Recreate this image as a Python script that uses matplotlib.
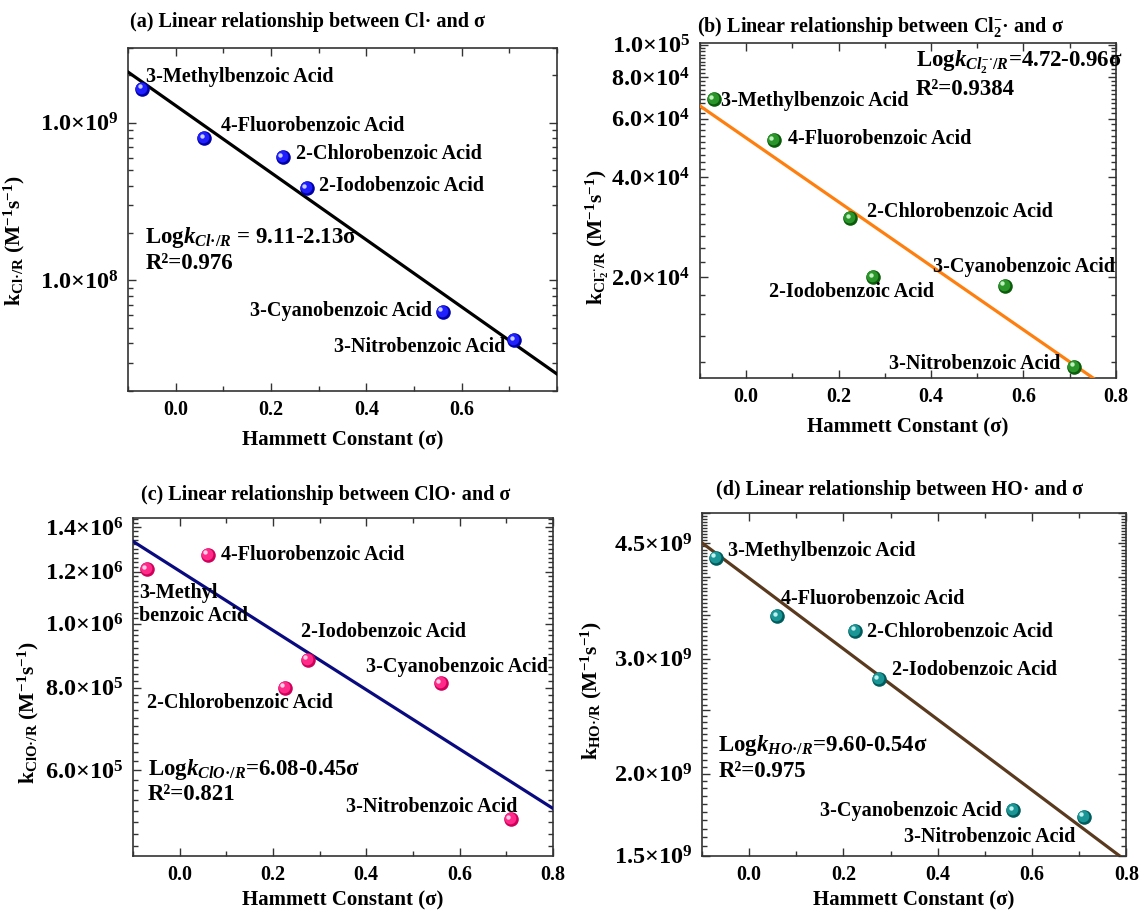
import matplotlib
matplotlib.use('Agg')
import matplotlib.pyplot as plt
import numpy as np
from matplotlib import transforms
from matplotlib.ticker import MultipleLocator, LogLocator, NullFormatter, FuncFormatter

plt.rcParams['font.family'] = ['Liberation Serif', 'DejaVu Serif']
plt.rcParams['font.weight'] = 'bold'
plt.rcParams['axes.labelweight'] = 'bold'
plt.rcParams['mathtext.fontset'] = 'custom'
plt.rcParams['mathtext.rm'] = 'Liberation Serif:bold'
plt.rcParams['mathtext.bf'] = 'Liberation Serif:bold'
plt.rcParams['mathtext.it'] = 'Liberation Serif:italic:bold'
plt.rcParams['mathtext.default'] = 'regular'

# Hammett constants and the acids they belong to
acids = ['3-Methylbenzoic Acid', '4-Fluorobenzoic Acid', '2-Chlorobenzoic Acid',
         '2-Iodobenzoic Acid', '3-Cyanobenzoic Acid', '3-Nitrobenzoic Acid']
sigma = [-0.07, 0.06, 0.225, 0.275, 0.56, 0.71]

# second-order rate constants (M-1 s-1)
k_cl = [1.65e9, 7.97e8, 6.04e8, 3.85e8, 6.34e7, 4.19e7]
k_cl2 = [6.86e4, 5.16e4, 3.01e4, 2.0e4, 1.89e4, 1.08e4]
k_clo = [1.21e6, 1.272e6, 8.0e5, 8.82e5, 8.12e5, 5.05e5]
k_ho = [4.28e9, 3.48e9, 3.31e9, 2.79e9, 1.76e9, 1.72e9]

# log k = a + b*sigma fits
fit_cl = (9.11, -2.13, '0.976')
fit_cl2 = (4.72, -0.96, '0.9384')
fit_clo = (6.08, -0.45, '0.821')
fit_ho = (9.60, -0.54, '0.975')

XLIM = (-0.1, 0.8)


def sci(v, pos=None):
    m, e = ('%.1e' % v).split('e')
    return r'%s×10$^{%d}$' % (m, int(e))


def sphere(ax, x, y, dark, base, light):
    fig = ax.figure
    ax.scatter(x, y, s=110, color=dark, lw=0, zorder=4)
    off = transforms.offset_copy(ax.transData, fig=fig, x=-1, y=1, units='dots')
    ax.scatter(x, y, s=70, color=base, lw=0, zorder=5, transform=off)
    off2 = transforms.offset_copy(ax.transData, fig=fig, x=-2.5, y=2.5, units='dots')
    ax.scatter(x, y, s=10, color=light, lw=0, zorder=6, transform=off2)


def panel(fig, rect, k, fit, colors, line_color, title, title_xy, ylabel, ylabel_xy,
          eq, eq_xy, offsets, xticks, xlabel_gap=40):
    ax = fig.add_axes(rect)
    ax.set_yscale('log')
    a, b, r2 = fit
    xs = np.array(XLIM)
    ax.plot(xs, 10 ** (a + b * xs), color=line_color, lw=2.3, zorder=3)
    sphere(ax, sigma, k, *colors)
    for name, x, y, (dx, dy, ha) in zip(acids, sigma, k, offsets):
        ax.annotate(name, (x, y), xytext=(dx, dy), textcoords='offset pixels',
                    ha=ha, va='center', fontsize=14.5, zorder=7,
                    multialignment='left')
    ax.set_xlim(*XLIM)
    ax.set_xticks(xticks)
    ax.xaxis.set_minor_locator(MultipleLocator(0.1))
    ax.xaxis.set_major_formatter(FuncFormatter(lambda v, p: '%.1f' % v))
    ax.tick_params(which='both', direction='in', top=True, right=True, width=1.0,
                   color='#333333')
    ax.tick_params(which='major', length=6)
    ax.tick_params(which='minor', length=3.5)
    ax.tick_params(axis='x', labelsize=14.5, pad=7)
    ax.tick_params(axis='y', labelsize=17.5, pad=7)
    for s in ax.spines.values():
        s.set_linewidth(1.2)
        s.set_color('#333333')
    ax.set_xlabel('Hammett Constant (σ)', fontsize=15)
    h_px = rect[3] * 913
    ax.xaxis.set_label_coords(0.5, -xlabel_gap / h_px)
    ax.set_ylabel(ylabel, fontsize=15.5)
    ax.yaxis.set_label_coords(*ylabel_xy)
    ax.text(eq_xy[0], eq_xy[1], eq, transform=ax.transAxes, fontsize=16.5,
            va='center', ha='left')
    ax.text(eq_xy[0], eq_xy[2], 'R²=' + r2, transform=ax.transAxes, fontsize=16.5,
            va='center', ha='left')
    fig.text(title_xy[0], title_xy[1], title, fontsize=14.5, ha='center', va='center')
    return ax


fig = plt.figure(figsize=(11.44, 9.13), dpi=100)

# (a) Cl radical
ax = panel(fig, [0.1118, 0.5721, 0.3752, 0.3757], k_cl, fit_cl,
           ('#0000a8', '#2020ff', '#c8d0ff'), 'black',
           '(a) Linear relationship between Cl· and σ', (307.7 / 1144, 0.976),
           r'k$_{Cl·/R}$ (M$^{-1}$s$^{-1}$)', (-0.235, 0.437),
           r'Log$\mathit{k}_{\mathit{Cl·/R}}$ = 9.11-2.13σ', (0.041, 0.447, 0.371),
           [(4, 12, 'left'), (17, 12, 'left'), (13, 3, 'left'),
            (12, 2, 'left'), (-11, 1, 'right'), (-9, -7, 'right')],
           [0.0, 0.2, 0.4, 0.6])
ax.set_ylim(2e7, 3e9)
ax.set_yticks([1e8, 1e9], [sci(1e8), sci(1e9)])
ax.yaxis.set_minor_locator(LogLocator(subs=np.arange(2, 10)))
ax.yaxis.set_minor_formatter(NullFormatter())

# (b) Cl2 radical anion
ax = panel(fig, [0.6119, 0.5863, 0.3634, 0.3663], k_cl2, fit_cl2,
           ('#0a5c0a', '#2a962a', '#c0f0c0'), '#ff7f0e',
           r'(b) Linear relationship between Cl$_2^{-}$· and σ', (880.7 / 1144, 0.9708),
           r'k$_{Cl_2^{-·}/R}$ (M$^{-1}$s$^{-1}$)', (-0.215, 0.419),
           r'Log$\mathit{k}_{\mathit{Cl_2^{-·}/R}}$=4.72-0.96σ', (0.519, 0.943, 0.863),
           [(7, -2, 'left'), (14, 1, 'left'), (17, 6, 'left'),
            (-22, -15, 'center'), (19, 19, 'center'), (-14, 3, 'right')],
           [0.0, 0.2, 0.4, 0.6, 0.8])
ax.set_ylim(1e4, 1.01e5)
ax.set_yticks([2e4, 4e4, 6e4, 8e4, 1e5], [sci(v) for v in [2e4, 4e4, 6e4, 8e4, 1e5]])
ax.yaxis.set_minor_locator(MultipleLocator(2e4 / 9))
ax.yaxis.set_minor_formatter(NullFormatter())

# (c) ClO radical
ax = panel(fig, [0.1162, 0.0628, 0.3671, 0.3695], k_clo, fit_clo,
           ('#d0005a', '#ff2a8a', '#ffd0e6'), '#0a0a80',
           '(c) Linear relationship between ClO· and σ', (325.9 / 1144, 0.4578),
           r'k$_{ClO·/R}$ (M$^{-1}$s$^{-1}$)', (-0.22, 0.423),
           r'Log$\mathit{k}_{\mathit{ClO·/R}}$=6.08-0.45σ', (0.036, 0.254, 0.180),
           [(-8, -35, 'left'), (13, 0, 'left'), (-45, -15, 'center'),
            (76, 28, 'center'), (16, 16, 'center'), (-79, 12, 'center')],
           [0.0, 0.2, 0.4, 0.6, 0.8], xlabel_gap=35)
ax.texts[0].set_text('3-Methyl\nbenzoic Acid')
ax.set_ylim(4.45e5, 1.445e6)
ax.set_yticks([6e5, 8e5, 1e6, 1.2e6, 1.4e6],
              [sci(v) for v in [6e5, 8e5, 1e6, 1.2e6, 1.4e6]])
ax.yaxis.set_minor_locator(MultipleLocator(2e4))
ax.yaxis.set_minor_formatter(NullFormatter())

# (d) HO radical
ax = panel(fig, [0.6135, 0.0628, 0.3711, 0.375], k_ho, fit_ho,
           ('#005c5c', '#1a9696', '#c0f0f0'), '#5a3a1e',
           '(d) Linear relationship between HO· and σ', (900 / 1144, 0.4633),
           r'k$_{HO·/R}$ (M$^{-1}$s$^{-1}$)', (-0.23, 0.484),
           r'Log$\mathit{k}_{\mathit{HO·/R}}$=9.60-0.54σ', (0.039, 0.323, 0.247),
           [(12, 7, 'left'), (4, 17, 'left'), (12, -1, 'left'),
            (13, 9, 'left'), (-11, -1, 'right'), (-9, -20, 'right')],
           [0.0, 0.2, 0.4, 0.6, 0.8], xlabel_gap=35)
ax.set_ylim(1.5e9, 5.0e9)
shown = [1.5e9, 2e9, 3e9, 4.5e9]
ax.yaxis.set_major_locator(MultipleLocator(5e8))
ax.yaxis.set_major_formatter(
    FuncFormatter(lambda v, p: sci(v) if any(abs(v - s) < 1e6 for s in shown) else ''))
ax.yaxis.set_minor_locator(MultipleLocator(5e7))
ax.yaxis.set_minor_formatter(NullFormatter())

fig.savefig('out.png', dpi=100)
